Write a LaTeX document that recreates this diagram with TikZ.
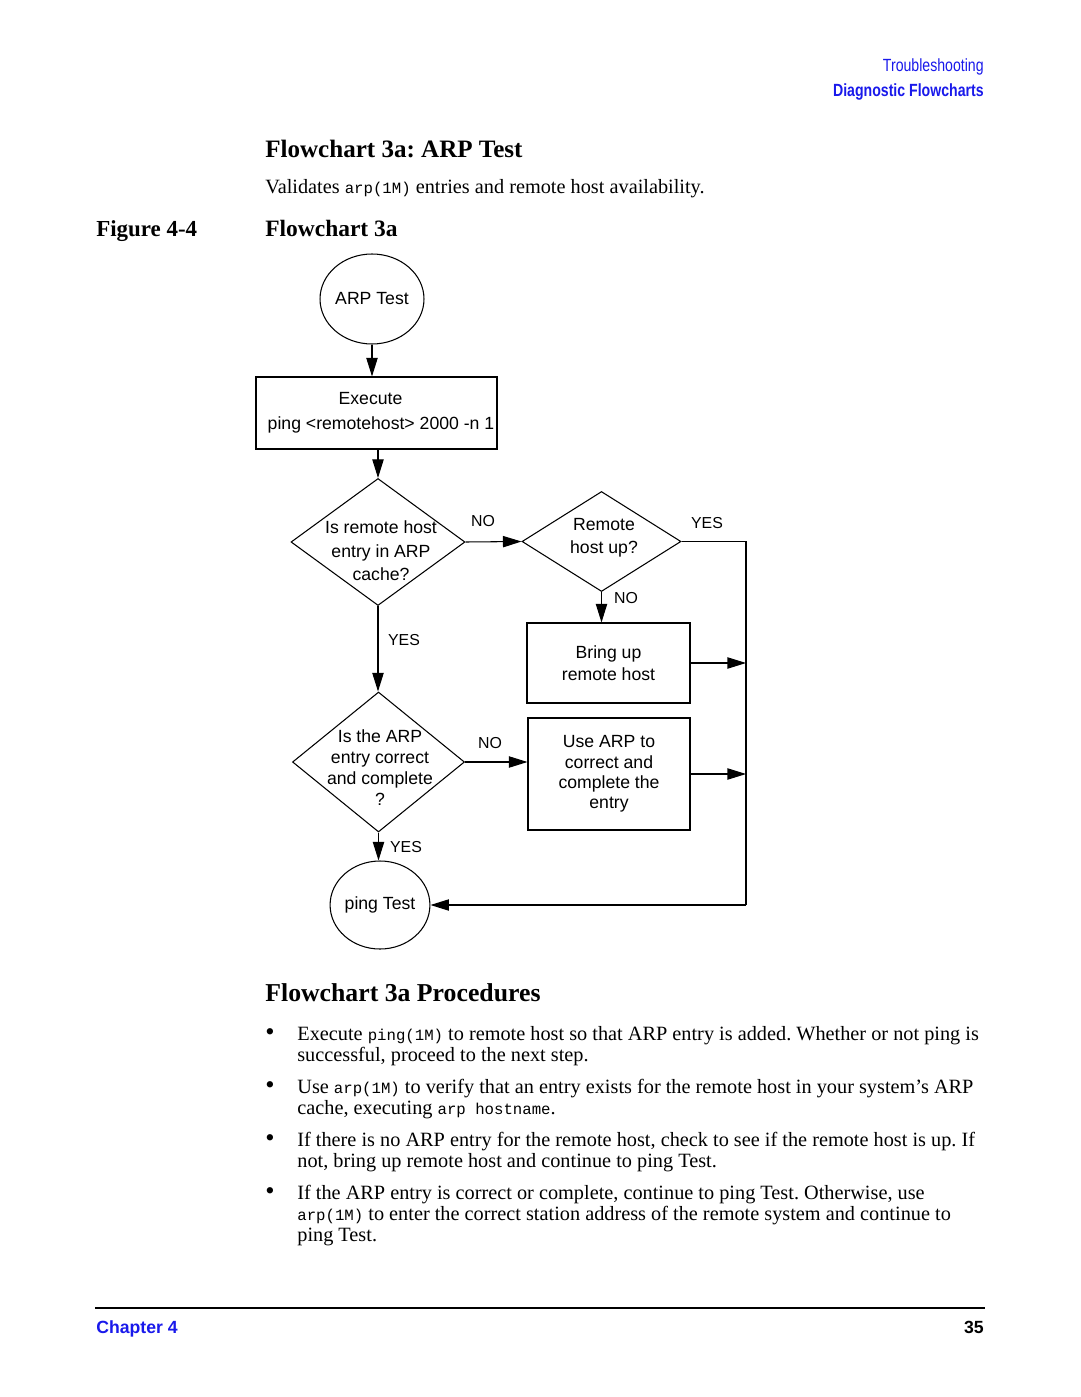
\documentclass[tikz,border=0pt]{standalone}
\usepackage{fontspec}
\setmainfont{Liberation Serif}
\setsansfont{Liberation Sans}
\setmonofont{Liberation Mono}
\newfontfamily\narrowsans{Liberation Sans}[FakeStretch=0.8]
\usetikzlibrary{shapes.geometric,arrows.meta}
\newcommand{\pxu}{0.5669pt}
\newcommand{\mycode}[1]{{\ttfamily\fontsize{8.9}{12}\selectfont #1}}
\definecolor{hpblue}{RGB}{25,25,235}
\tikzset{
  fc/.style={draw, line width=0.6pt, inner sep=0pt, align=center,
    font=\sffamily\fontsize{10}{12.5}\selectfont},
  boxnode/.style={fc, rectangle},
  ellnode/.style={fc, ellipse},
  dianode/.style={draw, line width=0.6pt, diamond, inner sep=0pt},
  dtext/.style={inner sep=0pt, align=center},
  lbl/.style={inner sep=0pt, font=\sffamily\fontsize{9}{10}\selectfont},
  flow/.style={line width=0.6pt, -{Triangle[length=10.5pt,width=6.4pt]}},
  plainline/.style={line width=0.6pt},
  body/.style={anchor=base west, inner sep=0pt, font=\frenchspacing\fontsize{11.5}{12}\selectfont},
  head/.style={anchor=base west, inner sep=0pt},
  bul/.style={anchor=base, inner sep=0pt, font=\fontsize{15}{12}\selectfont},
}
\begin{document}
\frenchspacing
\begin{tikzpicture}[x=\pxu,y=-\pxu]
\useasboundingbox[fill=white] (0,0) rectangle (1080,1397);

% running header
\node[anchor=base east, inner sep=0pt, text=hpblue, font=\narrowsans\fontsize{10}{12}\selectfont] (hdr1) at (984,72) {Troubleshooting};
\node[anchor=base east, inner sep=0pt, text=hpblue, font=\narrowsans\bfseries\fontsize{10}{12}\selectfont] (hdr2) at (984,97) {Diagnostic Flowcharts};

% headings
\node[head, font=\bfseries\fontsize{14.2}{16}\selectfont] (title) at (265,158) {Flowchart 3a: ARP Test};
\node[body] (intro) at (265,194) {Validates \mycode{arp(1M)} entries and remote host availability.};
\node[head, font=\bfseries\fontsize{13}{16}\selectfont] (fig) at (96,237) {Figure 4-4};
\node[head, font=\bfseries\fontsize{13.3}{16}\selectfont] (figt) at (265,237) {Flowchart 3a};

% flowchart
\node[ellnode, minimum width=100*\pxu, minimum height=90*\pxu] (arp) at (372,299) {ARP Test};
\node[boxnode, minimum width=241*\pxu, minimum height=72*\pxu, font=\sffamily\fontsize{10}{14}\selectfont] (exec) at (376.5,413) {Execute\hspace*{6.8pt}\\\hspace*{5.1pt}ping <remotehost> 2000 -n 1};

\node[dianode, minimum width=174*\pxu, minimum height=127*\pxu] (d1) at (378,542) {};
\node[dtext, font=\sffamily\fontsize{10}{13.3}\selectfont] (t1) at (381,551) {Is remote host\\entry in ARP\\cache?};

\node[dianode, minimum width=159*\pxu, minimum height=100*\pxu] (d2) at (601.5,541.5) {};
\node[dtext, font=\sffamily\fontsize{10}{13}\selectfont] (t2) at (604,538) {Remote\\host up?};

\node[boxnode, minimum width=163*\pxu, minimum height=80*\pxu] (bring) at (608.5,663) {Bring up\\remote host};

\node[dianode, minimum width=172*\pxu, minimum height=140*\pxu] (d3) at (378.5,762) {};
\node[dtext, font=\sffamily\fontsize{10}{11.9}\selectfont] (t3) at (380,768) {Is the ARP\\entry correct\\and complete\\?};

\node[boxnode, minimum width=162*\pxu, minimum height=112*\pxu, font=\sffamily\fontsize{10}{11.6}\selectfont] (use) at (609,774) {Use ARP to\\correct and\\complete the\\entry};

\node[ellnode, minimum width=96*\pxu, minimum height=88*\pxu] (ping) at (380,905) {ping Test};

\coordinate (c1) at (746,541.5);
\coordinate (c2) at (746,905);

\draw[flow] (arp.south) -- (arp.south |- exec.north);
\draw[flow] (exec.south -| d1.north) -- (d1.north);
\draw[flow] (d1.east) -- (d2.west);
\draw[plainline] (d2.east) -- (c1) -- (c2);
\draw[flow] (c2) -- (ping.east);
\draw[flow] (d2.south) -- (d2.south |- bring.north);
\draw[flow] (bring.east) -- (bring.east -| c1);
\draw[flow] (use.east) -- (use.east -| c1);
\draw[flow] (d1.south) -- (d1.south |- d3.north);
\draw[flow] (d3.east) -- (d3.east -| use.west);
\draw[flow] (d3.south) -- (d3.south |- ping.north);

\node[lbl] (l1) at (483,521) {NO};
\node[lbl] (l2) at (707,523) {YES};
\node[lbl] (l3) at (626,598) {NO};
\node[lbl] (l4) at (404,640) {YES};
\node[lbl] (l5) at (490,743) {NO};
\node[lbl] (l6) at (406,847) {YES};

% procedures
\node[head, font=\bfseries\fontsize{14.6}{16}\selectfont] (proc) at (265,1001) {Flowchart 3a Procedures};

\node[bul] (bu1) at (270,1040) {•};
\node[body] (p1a) at (297,1040) {Execute \mycode{ping(1M)} to remote host so that ARP entry is added. Whether or not ping is};
\node[body] (p1b) at (297,1061) {successful, proceed to the next step.};

\node[bul] (bu2) at (270,1093) {•};
\node[body] (p2a) at (297,1093) {Use \mycode{arp(1M)} to verify that an entry exists for the remote host in your system's ARP};
\node[body] (p2b) at (297,1114) {cache, executing \mycode{arp hostname}.};

\node[bul] (bu3) at (270,1146) {•};
\node[body] (p3a) at (297,1146) {If there is no ARP entry for the remote host, check to see if the remote host is up. If};
\node[body] (p3b) at (297,1167) {not, bring up remote host and continue to ping Test.};

\node[bul] (bu4) at (270,1199) {•};
\node[body] (p4a) at (297,1199) {If the ARP entry is correct or complete, continue to ping Test. Otherwise, use};
\node[body] (p4b) at (297,1220) {\mycode{arp(1M)} to enter the correct station address of the remote system and continue to};
\node[body] (p4c) at (297,1241) {ping Test.};

% footer
\coordinate (r1) at (95,1308);
\coordinate (r2) at (985,1308);
\draw[line width=1.2pt] (r1) -- (r2);
\node[anchor=base west, inner sep=0pt, text=hpblue, font=\sffamily\bfseries\fontsize{10}{12}\selectfont] (chap) at (96,1333) {Chapter 4};
\node[anchor=base east, inner sep=0pt, font=\sffamily\bfseries\fontsize{10}{12}\selectfont] (pg) at (984,1333) {35};
\end{tikzpicture}
\end{document}
